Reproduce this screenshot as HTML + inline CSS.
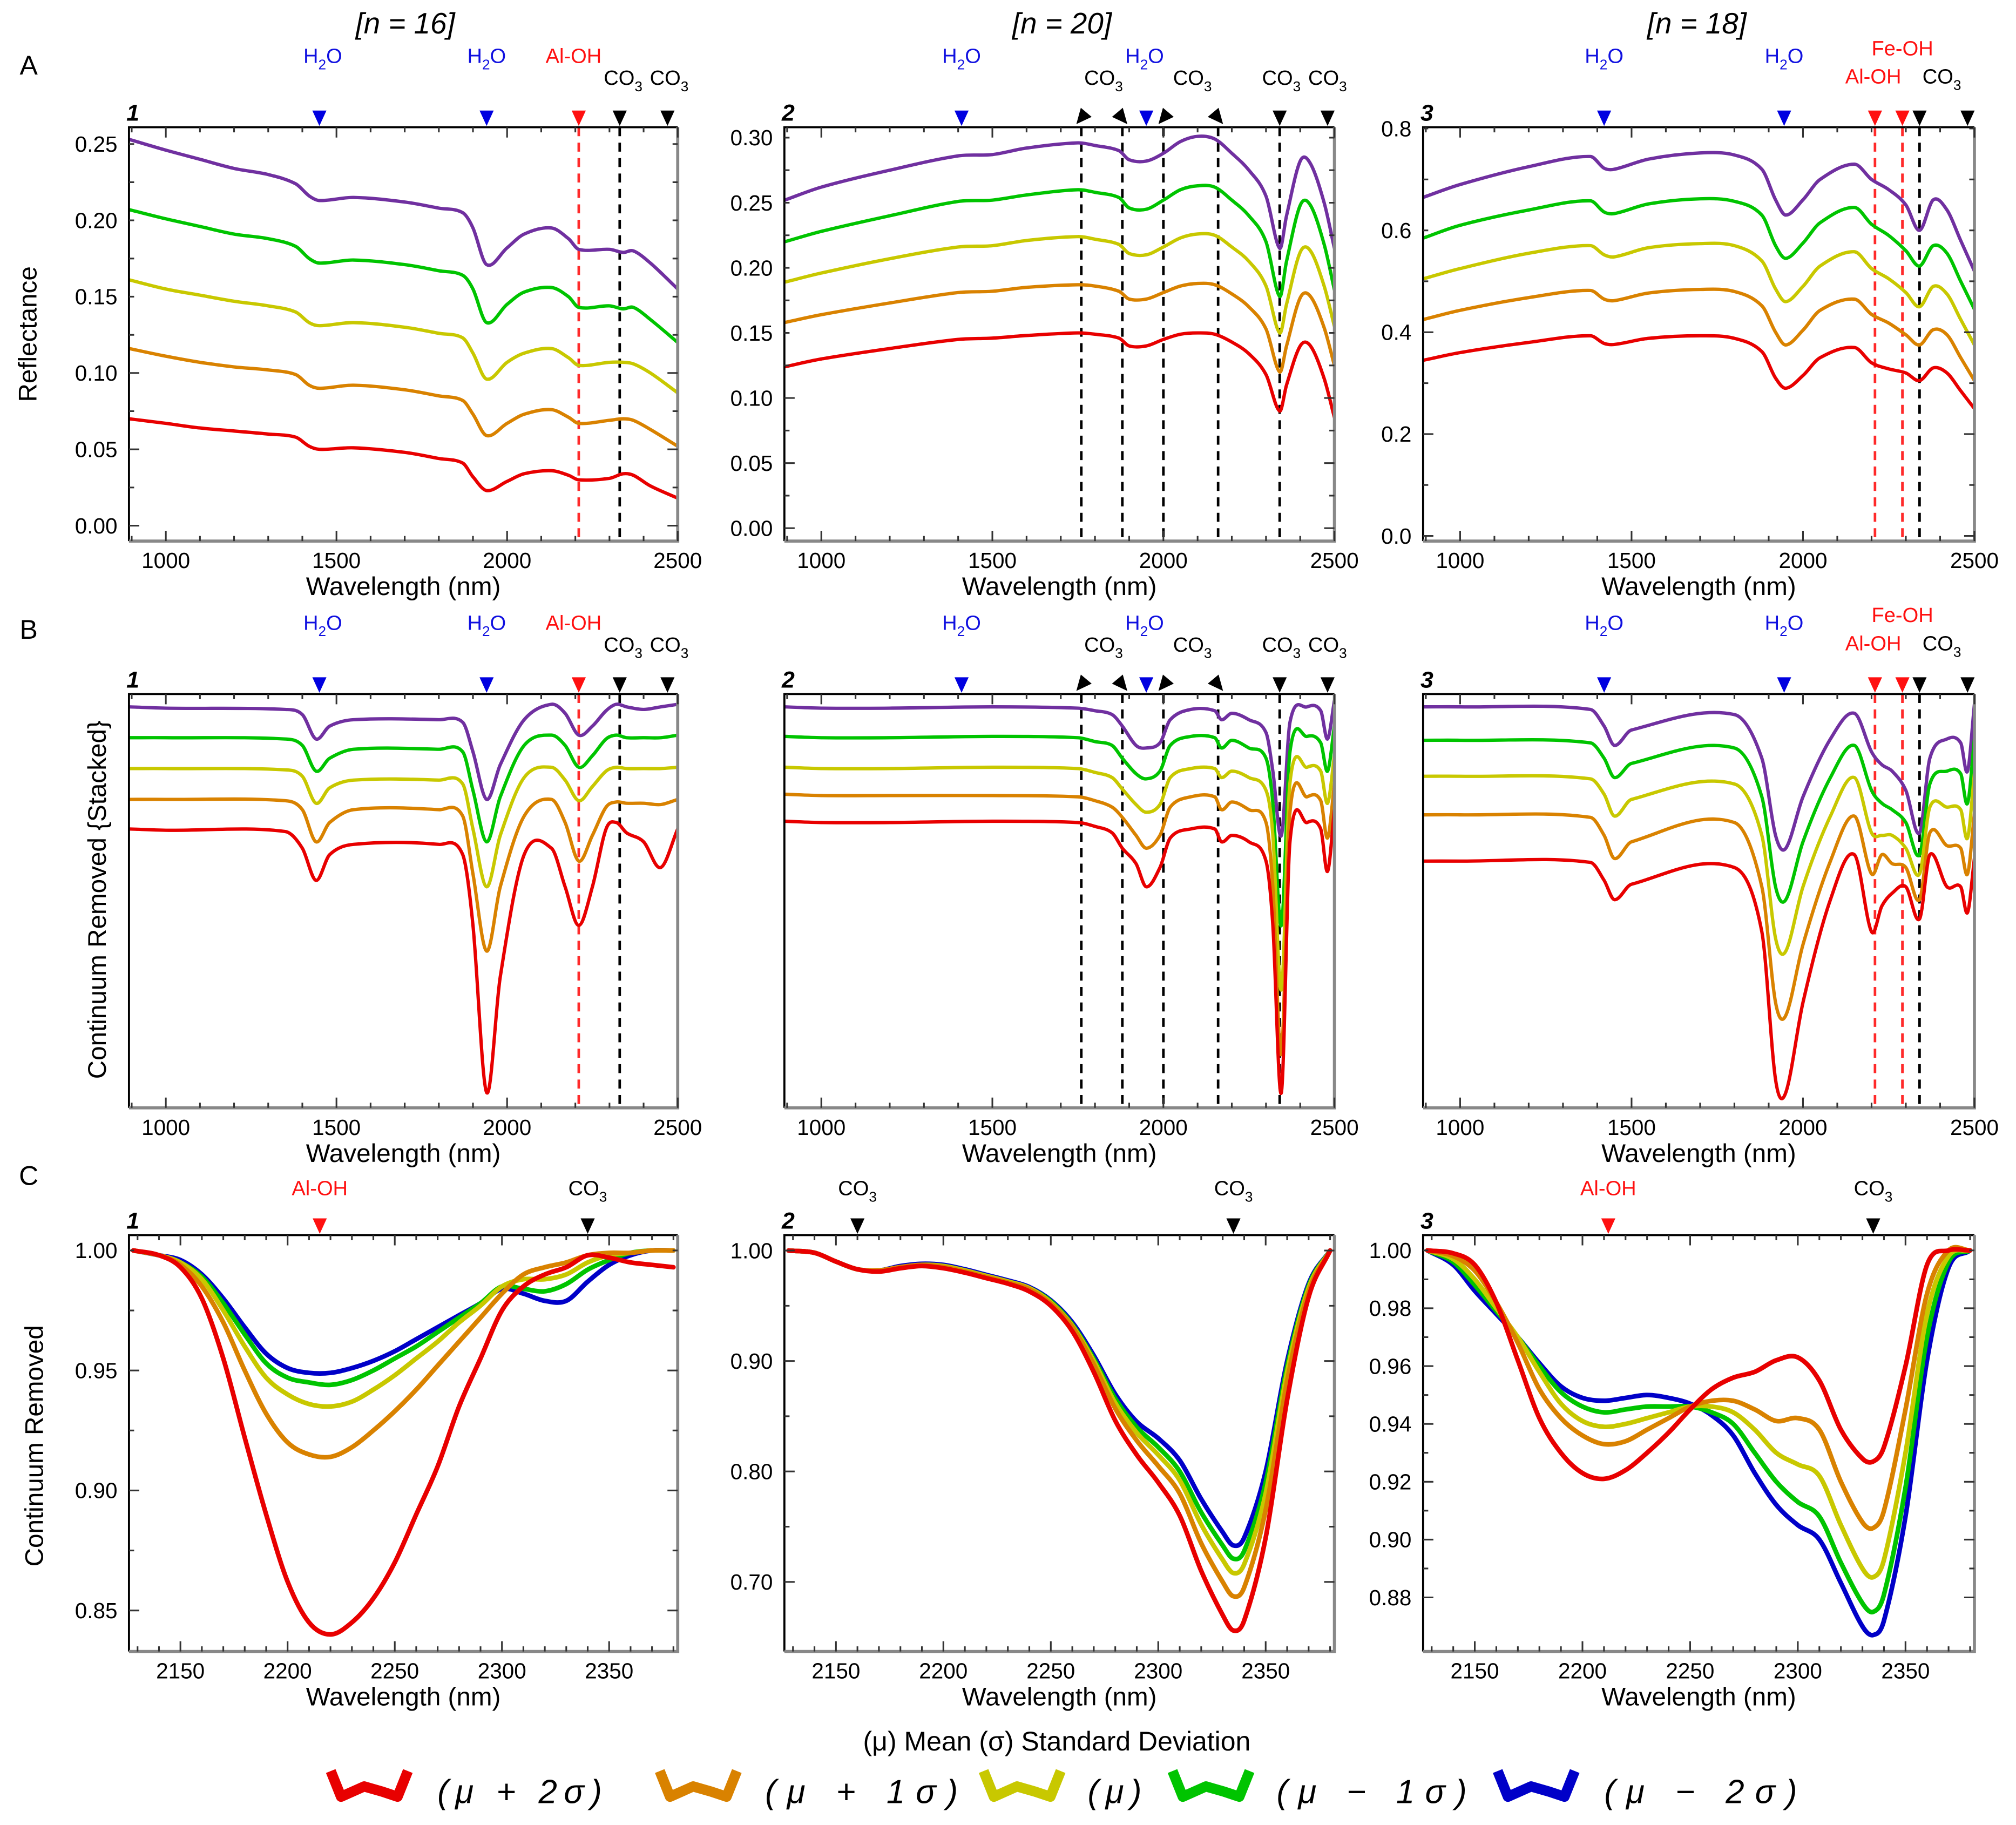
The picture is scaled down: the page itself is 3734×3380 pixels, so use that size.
<!DOCTYPE html>
<html><head><meta charset="utf-8"><style>
html,body{margin:0;padding:0;background:#fff;}
svg{display:block;}
text{font-family:"Liberation Sans",sans-serif;}
</style></head><body>
<svg id="fig" xmlns="http://www.w3.org/2000/svg" width="3734" height="3380" viewBox="0 0 1568 1420">
<rect width="1568" height="1420" fill="#fff"/>
</svg>
<script>
// ---------- DATA ----------
// Row A (reflectance)
const a1Wave = [893,1000,1100,1200,1300,1380,1420,1450,1550,1700,1800,1870,1900,1940,2000,2050,2130,2180,2210,2300,2340,2370,2420,2500];
const a1Purple = [0.253,0.246,0.240,0.234,0.230,0.224,0.216,0.213,0.215,0.212,0.208,0.205,0.195,0.171,0.182,0.191,0.195,0.188,0.181,0.181,0.179,0.180,0.172,0.155];
const a1Green = [0.207,0.201,0.196,0.191,0.188,0.183,0.175,0.172,0.174,0.171,0.167,0.164,0.155,0.133,0.145,0.153,0.156,0.150,0.143,0.144,0.142,0.143,0.135,0.120];
const a1Yellow = [0.161,0.155,0.151,0.147,0.144,0.140,0.133,0.131,0.133,0.130,0.126,0.123,0.113,0.096,0.107,0.113,0.116,0.110,0.105,0.107,0.107,0.106,0.100,0.087];
const a1Orange = [0.116,0.111,0.107,0.104,0.102,0.099,0.092,0.090,0.092,0.089,0.085,0.082,0.073,0.059,0.067,0.073,0.076,0.071,0.067,0.069,0.070,0.069,0.063,0.052];
const a1Red = [0.070,0.067,0.064,0.062,0.060,0.058,0.052,0.050,0.051,0.048,0.044,0.041,0.032,0.023,0.029,0.034,0.036,0.033,0.030,0.031,0.034,0.033,0.026,0.018];

const a2Wave = [893,1000,1200,1400,1500,1600,1750,1800,1870,1900,1950,2000,2050,2100,2150,2200,2250,2300,2340,2360,2400,2430,2470,2500];
const a2Purple = [0.252,0.262,0.275,0.286,0.287,0.292,0.296,0.294,0.290,0.283,0.282,0.288,0.297,0.301,0.299,0.288,0.275,0.255,0.215,0.240,0.282,0.280,0.250,0.215];
const a2Green = [0.220,0.228,0.240,0.251,0.252,0.256,0.260,0.258,0.254,0.246,0.245,0.252,0.260,0.263,0.262,0.252,0.240,0.220,0.178,0.205,0.248,0.248,0.218,0.183];
const a2Yellow = [0.189,0.196,0.207,0.216,0.217,0.221,0.224,0.222,0.218,0.211,0.210,0.216,0.223,0.226,0.225,0.216,0.205,0.186,0.150,0.172,0.212,0.213,0.186,0.155];
const a2Orange = [0.158,0.164,0.173,0.181,0.182,0.185,0.187,0.186,0.182,0.176,0.176,0.181,0.186,0.188,0.187,0.180,0.170,0.153,0.120,0.140,0.177,0.178,0.154,0.125];
const a2Red = [0.124,0.130,0.138,0.145,0.146,0.148,0.150,0.149,0.146,0.140,0.140,0.145,0.149,0.150,0.149,0.143,0.134,0.118,0.090,0.110,0.140,0.140,0.115,0.085];

const a3Wave = [893,1000,1200,1380,1420,1450,1550,1700,1800,1880,1920,1950,2000,2050,2150,2200,2250,2300,2340,2380,2420,2460,2500];
const a3Purple = [0.665,0.690,0.725,0.745,0.722,0.720,0.740,0.752,0.748,0.720,0.660,0.630,0.660,0.700,0.730,0.700,0.680,0.650,0.600,0.660,0.640,0.580,0.520];
const a3Green = [0.585,0.610,0.640,0.658,0.636,0.633,0.652,0.662,0.657,0.630,0.570,0.545,0.575,0.615,0.645,0.612,0.590,0.560,0.530,0.570,0.555,0.500,0.445];
const a3Yellow = [0.505,0.525,0.555,0.570,0.552,0.548,0.566,0.574,0.570,0.540,0.485,0.460,0.490,0.530,0.558,0.525,0.505,0.478,0.450,0.490,0.475,0.425,0.375];
const a3Orange = [0.425,0.443,0.468,0.482,0.465,0.462,0.477,0.484,0.480,0.452,0.400,0.375,0.404,0.443,0.465,0.435,0.418,0.395,0.375,0.405,0.395,0.350,0.305];
const a3Red = [0.345,0.360,0.380,0.393,0.378,0.376,0.388,0.393,0.388,0.362,0.310,0.290,0.315,0.350,0.370,0.340,0.328,0.320,0.305,0.330,0.320,0.285,0.250];

// Row B (continuum removed, stacked units)
const b1Wave = [893,1000,1350,1400,1440,1480,1550,1800,1870,1900,1940,1980,2050,2130,2170,2210,2250,2290,2320,2350,2400,2450,2500];
const b1Purple = [312,311,310,306,287,297,302,302,300,277,240,267,302,314,307,290,297,309,314,312,310,312,314];
const b1Green = [288,288,287,282,262,272,279,279,277,247,207,242,282,290,282,265,274,287,290,288,288,288,290];
const b1Yellow = [264,264,263,258,237,249,255,255,252,217,172,212,257,265,255,239,250,262,265,264,264,264,265];
const b1Orange = [240,240,239,232,207,222,232,232,227,182,122,172,227,240,222,192,212,234,238,237,237,236,240];
const b1Red = [217,216,215,202,177,197,205,205,197,142,12,102,197,202,172,142,172,217,222,214,207,187,217];

const b2Wave = [893,1000,1200,1500,1750,1800,1850,1880,1920,1950,1990,2020,2080,2150,2170,2200,2250,2300,2320,2345,2370,2420,2460,2480,2500];
const b2Purple = [312,311,311,312,311,309,306,297,282,280,284,302,310,309,302,307,302,292,262,212,300,312,309,287,317];
const b2Green = [289,288,288,289,288,285,282,272,260,256,262,282,289,288,280,286,280,272,237,142,277,289,284,262,297];
const b2Yellow = [265,264,264,265,264,261,257,248,236,230,236,257,264,264,257,262,257,247,212,92,253,265,262,237,274];
const b2Orange = [244,243,243,243,242,239,234,226,212,202,212,234,242,242,232,238,232,222,172,42,230,242,239,210,252];
const b2Red = [223,222,222,223,222,219,214,202,190,172,187,210,217,217,207,212,207,192,142,12,207,222,217,184,232];

const b3Wave = [893,1000,1380,1420,1450,1500,1800,1880,1920,1950,2000,2080,2150,2200,2230,2260,2300,2340,2370,2420,2460,2480,2500];
const b3Purple = [312,312,310,297,282,294,306,272,212,202,242,287,307,277,267,262,247,214,272,287,284,262,314];
const b3Green = [286,286,284,272,257,268,280,242,172,162,207,257,282,247,237,232,222,197,252,262,260,237,287];
const b3Yellow = [258,258,256,244,227,240,252,212,132,122,172,227,257,214,212,212,202,182,234,234,232,210,260];
const b3Orange = [228,228,226,212,194,207,222,172,82,72,127,192,227,182,197,190,187,162,214,204,202,182,229];
const b3Red = [192,192,191,177,162,174,187,137,22,12,82,162,197,137,157,167,172,147,197,172,172,152,194];

// Row C (continuum removed, 2130-2380)
const c1Wave = [2128,2140,2150,2160,2170,2180,2190,2200,2210,2220,2230,2240,2250,2260,2270,2280,2290,2300,2310,2320,2330,2340,2350,2360,2370,2380];
const c1Red = [1.000,0.998,0.993,0.980,0.955,0.922,0.890,0.862,0.845,0.840,0.845,0.855,0.870,0.890,0.910,0.935,0.955,0.975,0.985,0.990,0.993,0.998,0.997,0.995,0.994,0.993];
const c1Orange = [1.000,0.998,0.994,0.985,0.970,0.950,0.932,0.920,0.915,0.914,0.918,0.925,0.933,0.942,0.952,0.962,0.972,0.982,0.990,0.993,0.995,0.998,0.999,0.999,1.000,1.000];
const c1Yellow = [1.000,0.998,0.995,0.988,0.975,0.960,0.947,0.940,0.936,0.935,0.937,0.942,0.948,0.955,0.962,0.970,0.977,0.985,0.988,0.988,0.990,0.995,0.998,0.999,1.000,1.000];
const c1Green = [1.000,0.998,0.995,0.989,0.978,0.965,0.953,0.947,0.945,0.944,0.946,0.950,0.955,0.960,0.966,0.972,0.978,0.985,0.984,0.983,0.986,0.992,0.996,0.999,1.000,1.000];
const c1Blue = [1.000,0.998,0.996,0.990,0.980,0.968,0.957,0.951,0.949,0.949,0.951,0.954,0.958,0.963,0.968,0.973,0.978,0.984,0.982,0.979,0.979,0.987,0.994,0.998,1.000,1.000];

const c2Wave = [2128,2140,2150,2160,2170,2180,2190,2200,2210,2220,2230,2240,2250,2260,2270,2280,2290,2300,2310,2320,2330,2335,2340,2350,2360,2370,2380];
const c2Blue = [1.000,0.998,0.990,0.983,0.982,0.986,0.988,0.987,0.983,0.978,0.973,0.967,0.955,0.935,0.905,0.870,0.845,0.830,0.810,0.775,0.745,0.733,0.740,0.800,0.900,0.970,1.000];
const c2Green = [1.000,0.998,0.990,0.983,0.982,0.985,0.987,0.986,0.982,0.977,0.972,0.966,0.954,0.933,0.902,0.866,0.840,0.822,0.800,0.763,0.733,0.721,0.728,0.790,0.895,0.968,1.000];
const c2Yellow = [1.000,0.998,0.990,0.983,0.982,0.985,0.987,0.986,0.982,0.977,0.972,0.966,0.953,0.932,0.900,0.862,0.835,0.815,0.792,0.752,0.720,0.708,0.716,0.780,0.890,0.966,1.000];
const c2Orange = [1.000,0.998,0.990,0.983,0.982,0.985,0.987,0.985,0.981,0.976,0.971,0.965,0.952,0.931,0.897,0.857,0.828,0.805,0.780,0.735,0.700,0.687,0.695,0.765,0.882,0.963,1.000];
const c2Red = [1.000,0.998,0.990,0.983,0.981,0.984,0.986,0.984,0.980,0.975,0.970,0.963,0.950,0.927,0.890,0.846,0.815,0.790,0.760,0.710,0.670,0.656,0.665,0.740,0.865,0.958,1.000];

const c3Wave = [2128,2140,2150,2160,2170,2180,2190,2200,2210,2220,2230,2240,2250,2260,2270,2280,2290,2300,2310,2320,2330,2335,2340,2350,2360,2370,2380];
const c3Red = [1.000,0.999,0.995,0.982,0.962,0.942,0.930,0.923,0.921,0.924,0.930,0.937,0.945,0.952,0.956,0.958,0.962,0.963,0.955,0.938,0.928,0.927,0.932,0.960,0.995,1.000,1.000];
const c3Orange = [1.000,0.998,0.993,0.982,0.968,0.952,0.942,0.936,0.933,0.934,0.938,0.942,0.946,0.948,0.948,0.945,0.941,0.942,0.938,0.920,0.906,0.904,0.910,0.945,0.985,1.000,1.000];
const c3Yellow = [1.000,0.997,0.990,0.980,0.970,0.958,0.947,0.941,0.939,0.940,0.942,0.944,0.946,0.946,0.944,0.938,0.930,0.926,0.922,0.905,0.890,0.887,0.893,0.930,0.978,0.998,1.000];
const c3Green = [1.000,0.996,0.988,0.979,0.970,0.960,0.951,0.946,0.944,0.945,0.946,0.946,0.946,0.944,0.940,0.930,0.920,0.913,0.908,0.892,0.878,0.875,0.881,0.918,0.970,0.996,1.000];
const c3Blue = [1.000,0.995,0.986,0.978,0.970,0.961,0.953,0.949,0.948,0.949,0.950,0.949,0.947,0.943,0.936,0.923,0.912,0.905,0.900,0.885,0.870,0.867,0.872,0.908,0.962,0.994,1.000];

// tick labels
const abXTicks = [1000,1500,2000,2500];
const cXTicks = [2150,2200,2250,2300,2350];
const a1YTicks = [0.00,0.05,0.10,0.15,0.20,0.25];
const a2YTicks = [0.00,0.05,0.10,0.15,0.20,0.25,0.30];
const a3YTicks = [0.0,0.2,0.4,0.6,0.8];
const c1YTicks = [0.85,0.90,0.95,1.00];
const c2YTicks = [0.70,0.80,0.90,1.00];
const c3YTicks = [0.88,0.90,0.92,0.94,0.96,0.98,1.00];

// ---------- DRAWING ----------
const NS='http://www.w3.org/2000/svg';
const svg=document.getElementById('fig');
const COL={purple:'#7030a0',green:'#00c400',yellow:'#c8c800',orange:'#d98200',red:'#e80000',blue:'#0000c8'};
function mk(tag,attrs,parent){const e=document.createElementNS(NS,tag);for(const k in attrs)e.setAttribute(k,attrs[k]);(parent||svg).appendChild(e);return e;}
function txt(s,x,y,size,anchor,parent,extra){const t=mk('text',Object.assign({x:x,y:y,'font-size':size,'text-anchor':anchor||'middle',fill:'#000'},extra||{}),parent);t.textContent=s;return t;}
function smooth(pts){
  const n=pts.length,m=[];
  for(let i=0;i<n;i++){const a=pts[Math.max(0,i-1)],b=pts[Math.min(n-1,i+1)];m.push((b[1]-a[1])/(b[0]-a[0]||1));}
  let d='M'+pts[0][0].toFixed(2)+','+pts[0][1].toFixed(2);
  for(let i=0;i<n-1;i++){const p1=pts[i],p2=pts[i+1],dx=(p2[0]-p1[0])/3;
    d+=' C'+(p1[0]+dx).toFixed(2)+','+(p1[1]+m[i]*dx).toFixed(2)+' '+(p2[0]-dx).toFixed(2)+','+(p2[1]-m[i+1]*dx).toFixed(2)+' '+p2[0].toFixed(2)+','+p2[1].toFixed(2);}
  return d;}

const cols=[[100,527],[610,1038],[1107,1536]];
const rows={A:[99,421],B:[540,862],C:[961,1285]};

function panel(o){
  const [x0,x1]=cols[o.col],[y0,y1]=rows[o.row];
  const g=mk('g',{});
  
  
  const sx=v=>x0+(v-o.xd[0])/(o.xd[1]-o.xd[0])*(x1-x0);
  const sy=v=>y1-(v-o.yd[0])/(o.yd[1]-o.yd[0])*(y1-y0);
  o.marks.forEach(m=>{if(m[3]){const l=mk('line',{x1:sx(m[0]),x2:sx(m[0]),y1:y0,y2:y1,stroke:m[1]==='r'?'#ff2a2a':'#000','stroke-width':2,'stroke-dasharray':'7,5'},g);
    
    }});
  const cg=mk('g',{'clip-path':'url(#clip'+o.name+')'},g);
  const cp=mk('clipPath',{id:'clip'+o.name},g);mk('rect',{x:x0,y:y0,width:x1-x0,height:y1-y0},cp);
  o.series.forEach(s=>{const pts=o.wave.map((w,i)=>[sx(w),sy(s.v[i])]);
    const p=mk('path',{d:smooth(pts),fill:'none',stroke:COL[s.c],'stroke-width':o.row==='C'?3.6:2.6,'stroke-linejoin':'round','stroke-linecap':'round'},cg);
    
    });
  mk('path',{d:`M${x0},${y1}V${y0}H${x1}`,fill:'none',stroke:'#000','stroke-width':1.6},g);
  mk('path',{d:`M${x0},${y1}H${x1}V${y0}`,fill:'none',stroke:'#888','stroke-width':2.4},g);
  const step=o.row==='C'?10:100,maj=o.row==='C'?50:500;
  let tk='';
  for(let w=Math.ceil(o.xd[0]/step)*step;w<=o.xd[1];w+=step){const X=sx(w),L=(w%maj===0)?8:4;tk+=`M${X},${y1}v${-L}M${X},${y0}v${L}`;}
  if(o.yt){const ys=(o.yt[1]-o.yt[0])/2;for(let v=o.yt[0];v<=o.yd[1]+1e-9;v+=ys){const Y=sy(v),major=Math.abs(((v-o.yt[0])/ys)%2)<1e-6;const L=major?8:4;tk+=`M${x0},${Y}h${L}M${x1},${Y}h${-L}`;}}
  mk('path',{d:tk,stroke:'#333','stroke-width':1.3,fill:'none'},g);
  (o.xt).forEach(w=>{const t=txt(String(w),sx(w),y1+21,17,'middle',g);
    
    });
  if(o.yt){o.yt.forEach(v=>{const t=txt(v.toFixed(o.dec),x0-9,sy(v)+6,17,'end',g);
    
    });}
  const xt=txt('Wavelength (nm)',(x0+x1)/2,y1+42,20,'middle',g);
  
  
  const pn=txt(o.num,x0-2,y0-5,18,'start',g,{'font-weight':'bold','font-style':'italic'});
  
  
  o.marks.forEach(m=>{const X=sx(m[0]),c=m[1]==='r'?'#ff1010':m[1]==='b'?'#0000e0':'#000';
    const tip=y0-1;const tr=mk('path',{d:`M${X-5.5},${tip-12}L${X+5.5},${tip-12}L${X},${tip}Z`,fill:c},g);
    if(m[2])tr.setAttribute('transform',`rotate(${m[2]*40},${X},${tip-6})`);
    
    });
  o.labels.forEach(l=>{const X=sx(l[0]),Y=y0+l[3],c=l[2]==='r'?'#ff1010':l[2]==='b'?'#1010e0':'#000';
    const t=mk('text',{x:X,y:Y,'font-size':16,'text-anchor':'middle',fill:c},g);
    
    
    if(l[1]==='H2O'||l[1]==='CO3'){const a=l[1]==='H2O'?['H','2','O']:['CO','3',''];
      const s1=mk('tspan',{},t);s1.textContent=a[0];const s2=mk('tspan',{dy:5,'font-size':11},t);s2.textContent=a[1];
      if(a[2]){const s3=mk('tspan',{dy:-5},t);s3.textContent=a[2];}}
    else t.textContent=l[1];});
}
function S(names,arrs){return names.map((c,i)=>({c:c,v:arrs[i]}));}
const five=['purple','green','yellow','orange','red'];
const fiveC=['blue','green','yellow','orange','red'];
const m1=[[1450,'b',0,0],[1940,'b',0,0],[2210,'r',0,1],[2330,'k',0,1],[2470,'k',0,0]];
const l1=[[1460,'H2O','b',-50],[1940,'H2O','b',-50],[2195,'Al-OH','r',-50],[2340,'CO3','k',-33],[2475,'CO3','k',-33]];
const m2=[[1410,'b',0,0],[1760,'k',1,1],[1880,'k',-1,1],[1950,'b',0,0],[2000,'k',1,1],[2160,'k',-1,1],[2340,'k',0,1],[2480,'k',0,0]];
const l2=[[1410,'H2O','b',-50],[1825,'CO3','k',-33],[1945,'H2O','b',-50],[2085,'CO3','k',-33],[2345,'CO3','k',-33],[2480,'CO3','k',-33]];
const m3=[[1420,'b',0,0],[1945,'b',0,0],[2210,'r',0,1],[2290,'r',0,1],[2340,'k',0,1],[2480,'k',0,0]];
const l3=[[1420,'H2O','b',-50],[1945,'H2O','b',-50],[2290,'Fe-OH','r',-56],[2205,'Al-OH','r',-34],[2405,'CO3','k',-34]];
const xdAB=[892,2500],xdC=[2126,2382];
panel({name:'panel-a1',row:'A',col:0,num:'1',xd:xdAB,yd:[-0.0101,0.261],yt:a1YTicks,dec:2,xt:abXTicks,wave:a1Wave,series:S(five,[a1Purple,a1Green,a1Yellow,a1Orange,a1Red]),marks:m1,labels:l1});
panel({name:'panel-a2',row:'A',col:1,num:'2',xd:xdAB,yd:[-0.0099,0.308],yt:a2YTicks,dec:2,xt:abXTicks,wave:a2Wave,series:S(five,[a2Purple,a2Green,a2Yellow,a2Orange,a2Red]),marks:m2,labels:l2});
panel({name:'panel-a3',row:'A',col:2,num:'3',xd:xdAB,yd:[-0.0101,0.8025],yt:a3YTicks,dec:1,xt:abXTicks,wave:a3Wave,series:S(five,[a3Purple,a3Green,a3Yellow,a3Orange,a3Red]),marks:m3,labels:l3});
panel({name:'panel-b1',row:'B',col:0,num:'1',xd:xdAB,yd:[0,322],yt:null,xt:abXTicks,wave:b1Wave,series:S(five,[b1Purple,b1Green,b1Yellow,b1Orange,b1Red]),marks:m1,labels:l1});
panel({name:'panel-b2',row:'B',col:1,num:'2',xd:xdAB,yd:[0,322],yt:null,xt:abXTicks,wave:b2Wave,series:S(five,[b2Purple,b2Green,b2Yellow,b2Orange,b2Red]),marks:m2,labels:l2});
panel({name:'panel-b3',row:'B',col:2,num:'3',xd:xdAB,yd:[0,322],yt:null,xt:abXTicks,wave:b3Wave,series:S(five,[b3Purple,b3Green,b3Yellow,b3Orange,b3Red]),marks:m3,labels:l3});
panel({name:'panel-c1',row:'C',col:0,num:'1',xd:xdC,yd:[0.8329,1.0064],yt:c1YTicks,dec:2,xt:cXTicks,wave:c1Wave,series:S(fiveC,[c1Blue,c1Green,c1Yellow,c1Orange,c1Red]),marks:[[2215,'r',0,0],[2340,'k',0,0]],labels:[[2215,'Al-OH','r',-31],[2340,'CO3','k',-31]]});
panel({name:'panel-c2',row:'C',col:1,num:'2',xd:xdC,yd:[0.637,1.014],yt:c2YTicks,dec:2,xt:cXTicks,wave:c2Wave,series:S(fiveC,[c2Blue,c2Green,c2Yellow,c2Orange,c2Red]),marks:[[2160,'k',0,0],[2335,'k',0,0]],labels:[[2160,'CO3','k',-31],[2335,'CO3','k',-31]]});
panel({name:'panel-c3',row:'C',col:2,num:'3',xd:xdC,yd:[0.8613,1.0053],yt:c3YTicks,dec:2,xt:cXTicks,wave:c3Wave,series:S(fiveC,[c3Blue,c3Green,c3Yellow,c3Orange,c3Red]),marks:[[2212,'r',0,0],[2335,'k',0,0]],labels:[[2212,'Al-OH','r',-31],[2335,'CO3','k',-31]]});

[['A',22,58],['B',22,497],['C',22,922]].forEach(r=>{const t=txt(r[0],r[1],r[2],21,'middle');
  
  });
[['[n = 16]',315],['[n = 20]',826],['[n = 18]',1320]].forEach(r=>{const t=txt(r[0],r[1],26,23,'middle',svg,{'font-style':'italic'});
  
  });
[['Reflectance',28,260],['Continuum Removed {Stacked}',82,700],['Continuum Removed',33,1125]].forEach(r=>{const t=txt(r[0],r[1],r[2],20,'middle',svg,{transform:`rotate(-90,${r[1]},${r[2]})`});
  
  });

const lg=mk('g',{});


const lt=txt('(μ) Mean      (σ) Standard Deviation',822,1362,21,'middle',lg,{'xml:space':'preserve'});


const legItems=[['red',257,'(μ  +  2σ)',340,128],['orange',513,'(μ  +  1σ)',595,150],['yellow',765,'(μ)',846,42],['green',912,'(μ  −  1σ)',993,148],['blue',1165,'(μ  −  2σ)',1248,150]];
legItems.forEach(it=>{const x=it[1];
  const p=mk('path',{d:`M${x},${1378}L${x+8},${1398}L${x+26},${1390}L${x+40},${1394}L${x+52},${1398}L${x+60},${1378}`,fill:'none',stroke:COL[it[0]],'stroke-width':8,'stroke-linejoin':'round'},lg);
  
  
  const t=txt(it[2],it[3],1403,26,'start',lg,{'font-family':'"Liberation Serif",serif','font-style':'italic',textLength:it[4],lengthAdjust:'spacing'});
  
  });
</script>
</body></html>
